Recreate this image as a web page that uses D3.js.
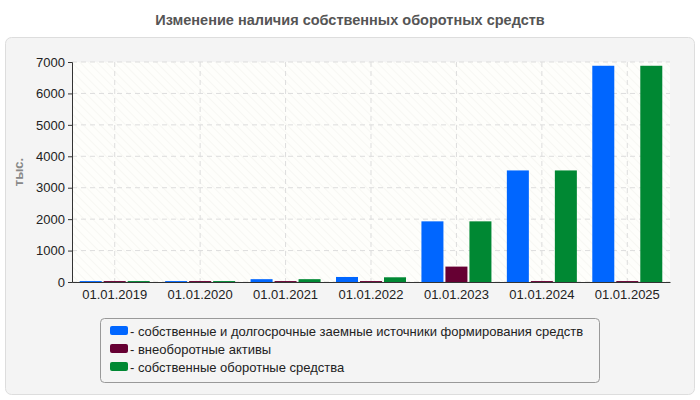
<!DOCTYPE html><html><head><meta charset="utf-8"><script src="https://cdn.jsdelivr.net/npm/d3@7"></script>
<style>body{margin:0;background:#fff;font-family:Arial,"Liberation Sans",sans-serif}</style></head><body>
<svg id="c" width="700" height="400"></svg>
<script>
const categories=["01.01.2019","01.01.2020","01.01.2021","01.01.2022","01.01.2023","01.01.2024","01.01.2025"];
const seriesNames=["- собственные и долгосрочные заемные источники формирования средств","- внеоборотные активы","- собственные оборотные средства"];
const colors=["#0066ff","#660033","#008833"];
const s1=[30,30,90,160,1930,3550,6880];
const s2=[30,30,30,30,490,30,30];
const s3=[30,30,90,150,1930,3550,6880];
const yTicks=[0,1000,2000,3000,4000,5000,6000,7000];
const series=[s1,s2,s3];
const svg=d3.select("#c");
svg.append("text").attr("x",350).attr("y",25).attr("text-anchor","middle").attr("font-size",14.5).attr("font-weight","bold").attr("fill","#555").text("Изменение наличия собственных оборотных средств");
svg.append("rect").attr("x",5.5).attr("y",37.5).attr("width",689).attr("height",357).attr("rx",6).attr("fill","#f4f4f4").attr("stroke","#ddd");
const L=72,R=670,T=62,B=282;
const defs=svg.append("defs");
const p=defs.append("pattern").attr("id","h").attr("width",6).attr("height",6).attr("patternUnits","userSpaceOnUse").attr("patternTransform","rotate(-45)");
p.append("rect").attr("width",6).attr("height",6).attr("fill","#fefefb");
p.append("line").attr("x1",0).attr("y1",0).attr("x2",0).attr("y2",6).attr("stroke","#f3f3ef").attr("stroke-width",1.2);
svg.append("rect").attr("x",L).attr("y",T).attr("width",R-L).attr("height",B-T).attr("fill","url(#h)");
const x=d3.scaleBand().domain(categories).range([L,R]);
const y=d3.scaleLinear().domain([0,7000]).range([B,T]);
const g=svg.append("g");
yTicks.forEach(t=>g.append("line").attr("x1",L).attr("x2",R).attr("y1",y(t)).attr("y2",y(t)).attr("stroke","#ddd").attr("stroke-dasharray","5,4"));
categories.forEach(c=>g.append("line").attr("x1",x(c)+x.bandwidth()/2).attr("x2",x(c)+x.bandwidth()/2).attr("y1",T).attr("y2",B).attr("stroke","#ddd").attr("stroke-dasharray","5,4"));
const bw=22,gap=2;
series.forEach((s,i)=>{
 g.selectAll(null).data(s).enter().append("rect")
  .attr("x",(d,j)=>x(categories[j])+x.bandwidth()/2-1.5*bw-gap+i*(bw+gap))
  .attr("y",d=>y(d)).attr("width",bw).attr("height",d=>B-y(d)).attr("fill",colors[i]);
});
const ya=svg.append("g").attr("transform",`translate(${L},0)`).call(d3.axisLeft(y).tickValues(yTicks).tickSize(4).tickFormat(d3.format("d")));
const xa=svg.append("g").attr("transform",`translate(0,${B})`).call(d3.axisBottom(x).tickSize(0).tickPadding(8));
[ya,xa].forEach(a=>{a.selectAll("text").attr("font-size",13).attr("fill","#222").attr("font-family","Arial,Liberation Sans");a.select(".domain").attr("stroke","#333");a.selectAll(".tick line").attr("stroke","#333");});
svg.append("text").attr("transform","translate(23,172) rotate(-90)").attr("text-anchor","middle").attr("font-size",13).attr("font-weight","bold").attr("fill","#888").text("тыс.");
svg.append("rect").attr("x",100.5).attr("y",318.5).attr("width",499).attr("height",64).attr("rx",4).attr("fill","#f4f4f4").attr("stroke","#999");
seriesNames.forEach((n,i)=>{
 svg.append("rect").attr("x",110).attr("y",326+i*18).attr("width",18).attr("height",9).attr("rx",2).attr("fill",colors[i]);
 svg.append("text").attr("x",130).attr("y",335.5+i*18).attr("font-size",13).attr("fill","#222").text(n);
});
</script></body></html>
